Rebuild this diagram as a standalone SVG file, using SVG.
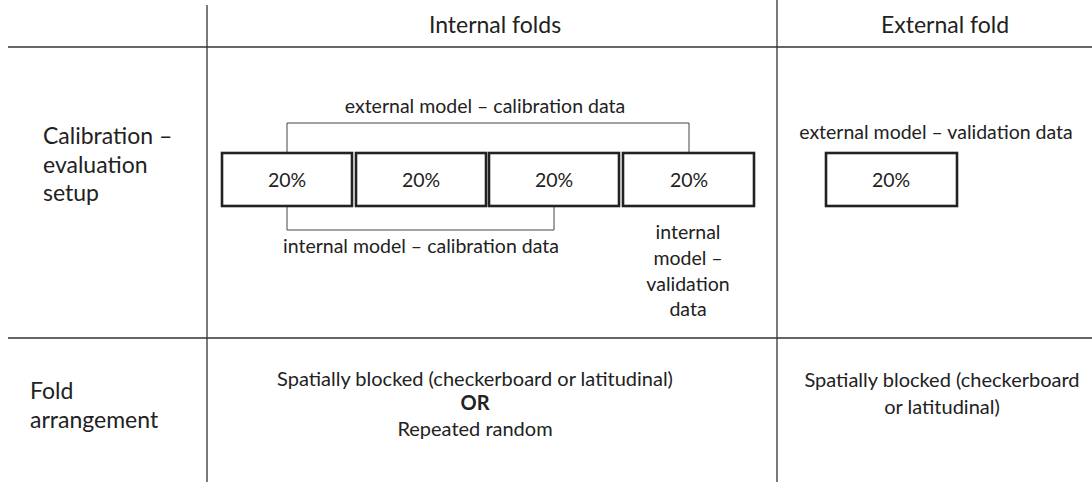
<svg xmlns="http://www.w3.org/2000/svg" width="1092" height="482" viewBox="0 0 1092 482">
<style>
text{font-family:Lato,"Open Sans","Liberation Sans",sans-serif;fill:#222;}
.h{font-size:23px;text-anchor:middle;}
.r{font-size:23px;}
.t{font-size:19.5px;text-anchor:middle;}
.b{font-size:19.5px;text-anchor:middle;}
.c{font-size:20px;text-anchor:middle;}
.grid{stroke:#333;stroke-width:1.3;fill:none;}
.box{stroke:#222;stroke-width:2.6;fill:#fff;}
.br{stroke:#444;stroke-width:1;fill:none;}
</style>
<rect width="1092" height="482" fill="#fff"/>
<g id="grid">
<line class="grid" x1="207" y1="5" x2="207" y2="482"/>
<line class="grid" x1="777" y1="0" x2="777" y2="482"/>
<line class="grid" x1="8" y1="47" x2="1092" y2="47"/>
<line class="grid" x1="8" y1="338" x2="1092" y2="338"/>
</g>
<g id="headers">
<text class="h" x="495" y="33">Internal folds</text>
<text class="h" x="945" y="33">External fold</text>
<text class="r" x="43" y="144">Calibration –</text>
<text class="r" x="43" y="173">evaluation</text>
<text class="r" x="43" y="201">setup</text>
<text class="r" x="30" y="399">Fold</text>
<text class="r" x="30" y="428">arrangement</text>
</g>
<g id="connectors">
<polyline class="br" points="287,153 287,123 689,123 689,153"/>
<polyline class="br" points="287,206 287,230 554,230 554,206"/>
</g>
<g id="fold1"><rect class="box" x="222" y="153" width="130" height="53"/><text class="t" x="287" y="187">20%</text></g>
<g id="fold2"><rect class="box" x="356" y="153" width="130" height="53"/><text class="t" x="421" y="187">20%</text></g>
<g id="fold3"><rect class="box" x="489" y="153" width="130" height="53"/><text class="t" x="554" y="187">20%</text></g>
<g id="fold4"><rect class="box" x="623" y="153" width="131" height="53"/><text class="t" x="689" y="187">20%</text></g>
<g id="fold5"><rect class="box" x="826" y="153" width="131" height="53"/><text class="t" x="891" y="187">20%</text></g>
<g id="labels">
<text class="b" x="485" y="113">external model – calibration data</text>
<text class="b" x="421" y="253">internal model – calibration data</text>
<text class="b" x="688" y="239">internal</text>
<text class="b" x="688" y="265">model –</text>
<text class="b" x="688" y="291">validation</text>
<text class="b" x="688" y="316">data</text>
<text class="b" x="936" y="139">external model – validation data</text>
<text class="c" x="475" y="386">Spatially blocked (checkerboard or latitudinal)</text>
<text class="c" x="475" y="410" font-weight="bold">OR</text>
<text class="c" x="475" y="436">Repeated random</text>
<text class="c" x="942" y="387">Spatially blocked (checkerboard</text>
<text class="c" x="942" y="414">or latitudinal)</text>
</g>
</svg>
